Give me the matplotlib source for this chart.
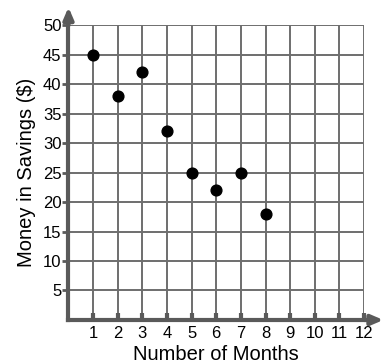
import matplotlib
matplotlib.use("Agg")
import matplotlib.pyplot as plt

plt.rcParams['font.family'] = ['Liberation Sans', 'DejaVu Sans']

months = [1, 2, 3, 4, 5, 6, 7, 8]
savings = [45, 38, 42, 32, 25, 22, 25, 18]
x_ticks = list(range(1, 13))
y_ticks = list(range(5, 55, 5))

fig = plt.figure(figsize=(3.92, 3.63), dpi=100)
ax = fig.add_axes([0.1747, 0.1185, 0.9286 - 0.1747, 0.931 - 0.1185])

ax.set_xlim(0, 12)
ax.set_ylim(0, 50)

# grid
for x in x_ticks:
    ax.axvline(x, color='#6e6e6e', lw=1.4, zorder=1)
for y in y_ticks:
    ax.axhline(y, color='#6e6e6e', lw=1.4, zorder=1)

for s in ['top', 'right']:
    ax.spines[s].set_visible(False)
for s in ['left', 'bottom']:
    ax.spines[s].set_color('#5a5a5a')
    ax.spines[s].set_linewidth(3)
    ax.spines[s].set_zorder(3)

# arrows on axes
ax.annotate('', xy=(12.9, 0), xytext=(11.9, 0), xycoords='data',
            arrowprops=dict(arrowstyle='-|>,head_length=0.7,head_width=0.3', color='#5a5a5a', lw=3),
            annotation_clip=False)
ax.annotate('', xy=(0, 53.5), xytext=(0, 49.5), xycoords='data',
            arrowprops=dict(arrowstyle='-|>,head_length=0.7,head_width=0.3', color='#5a5a5a', lw=3),
            annotation_clip=False)

ax.scatter(months, savings, s=60, color='black', zorder=5, clip_on=False)

ax.set_xticks(x_ticks)
ax.set_yticks(y_ticks)
ax.tick_params(axis='x', direction='in', length=5, width=3, color='#5a5a5a', labelsize=12, pad=4)
ax.tick_params(axis='y', direction='out', length=4, width=2, color='#5a5a5a', labelsize=12, pad=1)

ax.set_xlabel('Number of Months', fontsize=14.5, labelpad=3)
ax.set_ylabel('Money in Savings ($)', fontsize=14.5, labelpad=5)

fig.savefig('out.png', dpi=100)
